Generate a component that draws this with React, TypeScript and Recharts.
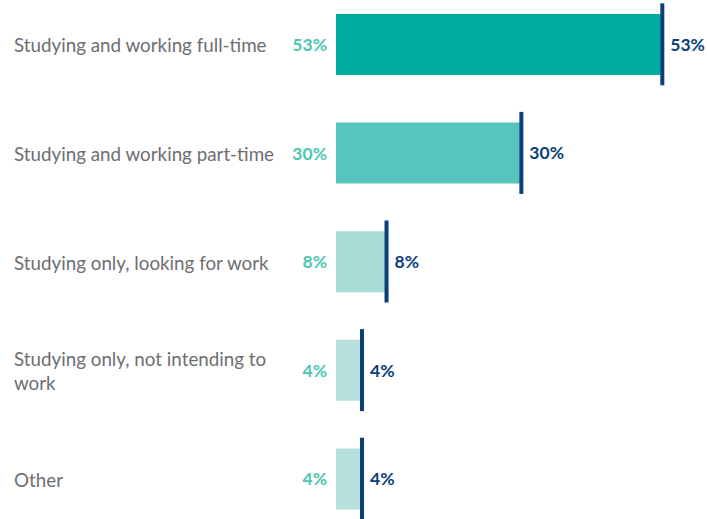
import React from "react";
import { ComposedChart, Bar, Scatter, XAxis, YAxis, LabelList, Cell } from "recharts";

const categories = [
  "Studying and working full-time",
  "Studying and working part-time",
  "Studying only, looking for work",
  "Studying only, not intending to work",
  "Other",
];
const categoryLines = [
  ["Studying and working full-time"],
  ["Studying and working part-time"],
  ["Studying only, looking for work"],
  ["Studying only, not intending to", "work"],
  ["Other"],
];
const shareValues = [53, 30, 8, 4, 4];
const markerValues = [53, 30, 8, 4, 4];
const barColors = ["#00AB9F", "#57C5BD", "#A6DBD6", "#B5E0DB", "#B5E0DB"];

const FONT = "Lato, 'Open Sans', sans-serif";
const data = categories.map((c, i) => ({
  category: c,
  share: shareValues[i],
  marker: markerValues[i],
  idx: i,
}));

const CategoryTick = (props: any) => {
  const { y, index } = props;
  const lines = categoryLines[index] || [props.payload.value];
  const lh = 24;
  const startY = y - ((lines.length - 1) * lh) / 2;
  return (
    <text x={14} y={startY} fill="#6D6E71" fontSize={18.8} fontFamily={FONT} dominantBaseline="central">
      {lines.map((l: string, k: number) => (
        <tspan key={k} x={14} y={startY + k * lh} dominantBaseline="central">
          {l}
        </tspan>
      ))}
    </text>
  );
};

const ShareLabel = (props: any) => {
  const { x, y, height, value } = props;
  return (
    <text x={x - 9} y={y + height / 2} textAnchor="end" dominantBaseline="central" fill="#4DC7B1" fontSize={17.5} fontWeight={700} fontFamily={FONT}>
      {value}%
    </text>
  );
};

const MarkerShape = (props: any) => {
  const { cx, cy, payload } = props;
  return (
    <g>
      <rect x={cx - 0.5} y={cy - 41} width={4} height={82} fill="#0A3F79" />
      <text x={cx + 9.5} y={cy} dominantBaseline="central" fill="#0A3F79" fontSize={17.5} fontWeight={700} fontFamily={FONT}>
        {payload.marker}%
      </text>
    </g>
  );
};

export default function App() {
  return (
    <div style={{ position: "absolute", left: 0, top: 0, width: 708, height: 519, overflow: "hidden", background: "#fff" }}>
      <div style={{ position: "absolute", left: 0, top: -10 }}>
        <ComposedChart
          width={708}
          height={543}
          data={data}
          layout="vertical"
          margin={{ top: 0, right: 0, bottom: 0, left: 0 }}
        >
          <XAxis type="number" domain={[0, 60.7]} hide />
          <YAxis
            type="category"
            dataKey="category"
            width={336}
            axisLine={false}
            tickLine={false}
            tick={<CategoryTick />}
            interval={0}
          />
          <Bar dataKey="share" barSize={61} isAnimationActive={false}>
            {data.map((d, i) => (
              <Cell key={i} fill={barColors[i]} />
            ))}
            <LabelList dataKey="share" content={<ShareLabel />} />
          </Bar>
          <Scatter dataKey="marker" shape={<MarkerShape />} isAnimationActive={false} />
        </ComposedChart>
      </div>
    </div>
  );
}
